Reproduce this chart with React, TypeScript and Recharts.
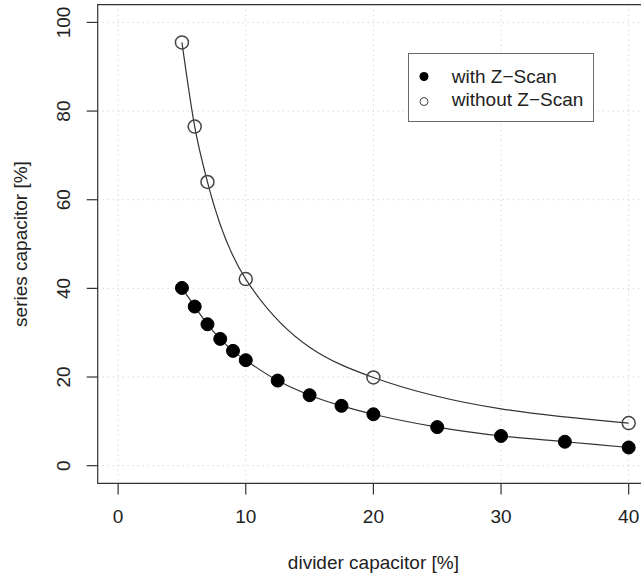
import React from "react";
import {
  ComposedChart,
  Line,
  XAxis,
  YAxis,
  CartesianGrid,
  ReferenceArea,
  Legend,
  Label,
} from "recharts";

// ---- data ----
const seriesNames = ["with Z\u2212Scan", "without Z\u2212Scan"];

const withX = [5, 6, 7, 8, 9, 10, 12.5, 15, 17.5, 20, 25, 30, 35, 40];
const withY = [40.1, 35.9, 31.9, 28.6, 25.9, 23.8, 19.2, 15.9, 13.5, 11.6, 8.7, 6.7, 5.4, 4.1];

const withoutX = [5, 6, 7, 10, 20, 40];
const withoutY = [95.5, 76.5, 64.0, 42.1, 19.9, 9.6];

const xTicks = [0, 10, 20, 30, 40];
const yTicks = [0, 20, 40, 60, 80, 100];
const xDomain = [-1.6, 41.6];
const yDomain = [-4, 104];

const xTitle = "divider capacitor [%]";
const yTitle = "series capacitor [%]";

const withData = withX.map((x, i) => ({ x, y: withY[i] }));
const withoutData = withoutX.map((x, i) => ({ x, y: withoutY[i] }));

const FONT = "'Liberation Sans', Arial, Helvetica, sans-serif";
const TXT = "#222";

const YTick = (p: any) => (
  <text
    x={p.x}
    y={p.y}
    transform={`rotate(-90 ${p.x} ${p.y})`}
    textAnchor="middle"
    fontSize={19}
    fontFamily={FONT}
    fill={TXT}
  >
    {p.payload.value}
  </text>
);

const YTitle = (p: any) => {
  const vb = p.viewBox || { x: 0, y: 0, width: 0, height: 0 };
  const cx = vb.x + 26.7;
  const cy = vb.y + vb.height / 2;
  return (
    <text
      x={cx}
      y={cy}
      transform={`rotate(-90 ${cx} ${cy})`}
      textAnchor="middle"
      fontSize={19}
      fontFamily={FONT}
      fill={TXT}
    >
      {yTitle}
    </text>
  );
};

const XTitle = (p: any) => {
  const vb = p.viewBox || { x: 0, y: 0, width: 0, height: 0 };
  return (
    <text
      x={vb.x + vb.width / 2}
      y={vb.y + vb.height - 12}
      textAnchor="middle"
      fontSize={19}
      fontFamily={FONT}
      fill={TXT}
    >
      {xTitle}
    </text>
  );
};

const LegendBox = () => (
  <div
    style={{
      position: "relative",
      width: 186,
      height: 69,
      border: "1px solid #6a6a6a",
      boxSizing: "border-box",
      background: "#fff",
      fontFamily: FONT,
      fontSize: 19,
      color: TXT,
    }}
  >
    <svg
      width={30}
      height={69}
      style={{ position: "absolute", left: 0, top: 0 }}
    >
      <circle cx={15} cy={22.5} r={4.5} fill="#000" />
      <circle cx={15} cy={47.5} r={4} fill="none" stroke="#444" strokeWidth={1} />
    </svg>
    <div style={{ position: "absolute", left: 42.5, top: 12.5, lineHeight: "22px", whiteSpace: "nowrap" }}>
      {seriesNames[0]}
    </div>
    <div style={{ position: "absolute", left: 42.5, top: 35.5, lineHeight: "22px", whiteSpace: "nowrap" }}>
      {seriesNames[1]}
    </div>
  </div>
);

export default function App() {
  return (
    <div
      style={{
        position: "absolute",
        left: 0,
        top: 0,
        width: 641,
        height: 581,
        overflow: "hidden",
        background: "#fff",
      }}
    >
      <ComposedChart
        width={660}
        height={581}
        margin={{ top: 4.7, right: 10.9, bottom: 0, left: 0 }}
      >
        <CartesianGrid
          stroke="#c4c4c4"
          strokeDasharray="1 4"
          strokeWidth={1}
        />
        <XAxis
          type="number"
          dataKey="x"
          domain={xDomain}
          ticks={xTicks}
          allowDataOverflow
          height={97.6}
          axisLine={false}
          tickLine={{ stroke: "#333", strokeWidth: 1.2 }}
          tickSize={11}
          tickMargin={15}
          tick={{ fontSize: 19, fontFamily: FONT, fill: TXT }}
          interval={0}
        >
          <Label content={XTitle} />
        </XAxis>
        <YAxis
          type="number"
          dataKey="y"
          domain={yDomain}
          ticks={yTicks}
          allowDataOverflow
          width={97.7}
          axisLine={false}
          tickLine={{ stroke: "#333", strokeWidth: 1.2 }}
          tickSize={11}
          tickMargin={16.6}
          tick={YTick}
          interval={0}
        >
          <Label content={YTitle} />
        </YAxis>
        <ReferenceArea
          x1={xDomain[0]}
          x2={xDomain[1]}
          y1={yDomain[0]}
          y2={yDomain[1]}
          fill="none"
          stroke="#333"
          strokeWidth={1.2}
          ifOverflow="visible"
        />
        <Line
          data={withoutData}
          dataKey="y"
          name={seriesNames[1]}
          type="monotone"
          stroke="#333"
          strokeWidth={1.2}
          dot={{ r: 6.5, fill: "#fff", fillOpacity: 0, stroke: "#444", strokeWidth: 1.5 }}
          activeDot={false}
          isAnimationActive={false}
        />
        <Line
          data={withData}
          dataKey="y"
          name={seriesNames[0]}
          type="monotone"
          stroke="#333"
          strokeWidth={1.2}
          dot={{ r: 6.5, fill: "#000", stroke: "#000", strokeWidth: 1 }}
          activeDot={false}
          isAnimationActive={false}
        />
        <Legend
          layout="horizontal"
          verticalAlign="middle"
          align="center"
          content={LegendBox}
          wrapperStyle={{ position: "absolute", left: 408.3, top: 52.7, width: 186, height: 69 }}
        />
      </ComposedChart>
    </div>
  );
}
